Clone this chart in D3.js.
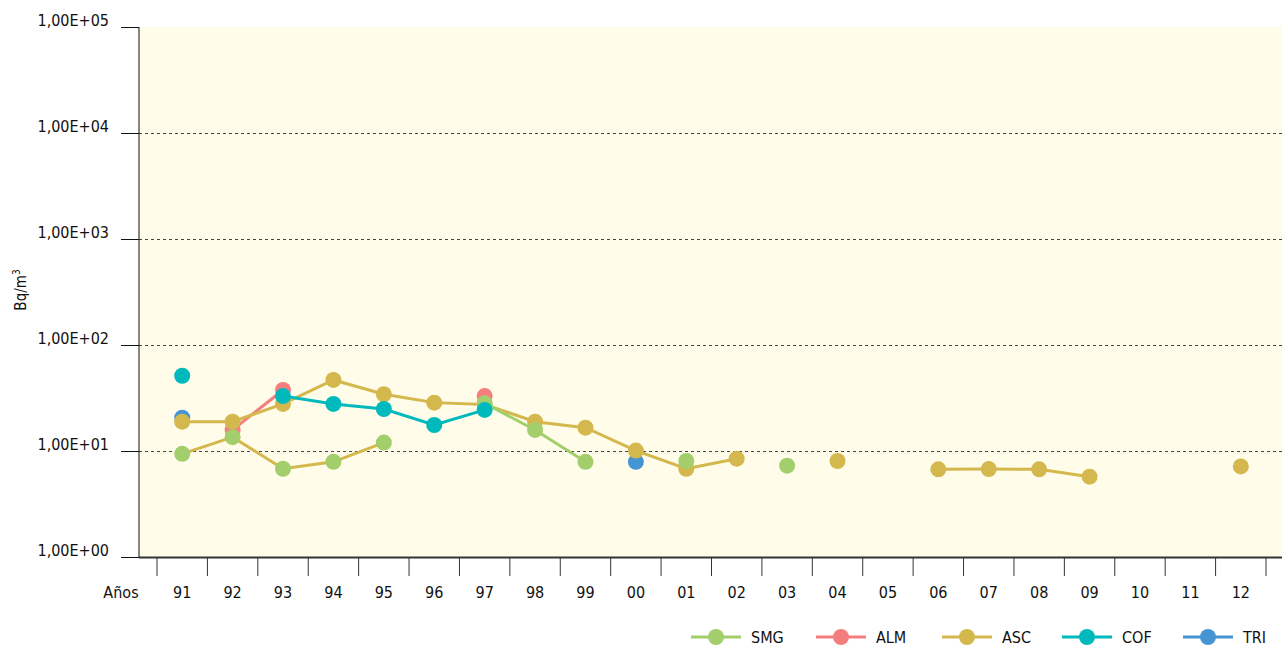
<!DOCTYPE html>
<html>
<head>
<meta charset="utf-8">
<script src="https://cdn.jsdelivr.net/npm/d3@7"></script>
<style>
  body { margin: 0; background: #fff; }
  text { font-family: "Liberation Sans Narrow", "DejaVu Sans Condensed", sans-serif; fill: #111; }
</style>
</head>
<body>
<script>
// years on the x axis
var years = ["91","92","93","94","95","96","97","98","99","00","01","02","03","04","05","06","07","08","09","10","11","12"];

// Bq/m3 per station, null = no value
var smg = [9.4, 13.5, 6.8, 7.9, 12, null, 28.2, 15.8, 7.9, null, 8.05, null, 7.27, null, null, null, null, null, null, null, null, null];
var alm = [null, 15.8, 37.6, null, null, null, 33, null, null, null, null, null, null, null, null, null, null, null, null, null, null, null];
var asc = [18.9, 18.9, 27.8, 46.8, 34.3, 28.6, 27.5, 18.9, 16.6, 10.1, 6.8, 8.46, null, 8.05, null, 6.72, 6.75, 6.72, 5.72, null, null, 7.16];
var cof = [51.3, null, 33, 27.8, 24.9, 17.6, 24.4, null, null, null, null, null, null, null, null, null, null, null, null, null, null, null];
var tri = [20.6, null, null, null, null, null, null, null, null, 7.9, null, null, null, null, null, null, null, null, null, null, null, null];

var yTicks = [1, 10, 100, 1000, 10000, 100000];
var yTickLabels = ["1,00E+00", "1,00E+01", "1,00E+02", "1,00E+03", "1,00E+04", "1,00E+05"];

var series = [
  { name: "SMG", values: smg, color: "#a2cf6b" },
  { name: "ALM", values: alm, color: "#f47d7d" },
  { name: "ASC", values: asc, color: "#d4b84d" },
  { name: "COF", values: cof, color: "#00b9bd" },
  { name: "TRI", values: tri, color: "#4595d4" }
];
// drawing order (which marker sits on top)
var drawOrder = ["TRI", "ALM", "ASC", "SMG", "COF"];

var svg = d3.select("body")
  .append("svg")
  .attr("width", 1282)
  .attr("height", 648);

var x = d3.scaleBand()
  .domain(years)
  .range([157, 1266]);

var y = d3.scaleLog()
  .domain([1, 100000])
  .range([557, 27]);

// plot background
svg.append("rect")
  .attr("x", 139)
  .attr("y", 27)
  .attr("width", 1282 - 139)
  .attr("height", 557 - 27)
  .style("fill", "#fffde9");

// dashed grid lines
svg.selectAll(".grid")
  .data(yTicks.slice(1, 5))
  .enter().append("line")
  .attr("x1", 139)
  .attr("x2", 1282)
  .attr("y1", function(d) { return Math.round(y(d)) + 0.5; })
  .attr("y2", function(d) { return Math.round(y(d)) + 0.5; })
  .style("stroke", "#444")
  .style("stroke-width", 1)
  .style("stroke-dasharray", "3,3");

// y axis
var yAxis = d3.axisLeft(y)
  .tickValues(yTicks)
  .tickFormat(function(d, i) { return yTickLabels[i]; })
  .tickSize(18)
  .tickPadding(12);

var gy = svg.append("g")
  .attr("transform", "translate(139,0)")
  .call(yAxis);
gy.select(".domain").attr("d", "M0,27V557").style("stroke", "#111");
gy.selectAll(".tick line").style("stroke", "#111");
gy.selectAll(".tick text")
  .attr("dy", "-0.1em")
  .style("font-size", "16px")
  .style("font-family", "'Liberation Sans Narrow', 'DejaVu Sans Condensed', sans-serif")
  .style("fill", "#111");

// x axis baseline
svg.append("line")
  .attr("x1", 139)
  .attr("x2", 1282)
  .attr("y1", 557.5)
  .attr("y2", 557.5)
  .style("stroke", "#333")
  .style("stroke-width", 2);

// x ticks between categories
var bounds = years.map(function(d) { return x(d); }).concat([x.range()[1]]);
svg.selectAll(".xtick")
  .data(bounds)
  .enter().append("line")
  .attr("x1", function(d) { return d; })
  .attr("x2", function(d) { return d; })
  .attr("y1", 558)
  .attr("y2", 576)
  .style("stroke", "#333")
  .style("stroke-width", 1);

svg.selectAll(".xlabel")
  .data(years)
  .enter().append("text")
  .attr("x", function(d) { return x(d) + x.bandwidth() / 2; })
  .attr("y", 598)
  .attr("text-anchor", "middle")
  .style("font-size", "16px")
  .text(function(d) { return d; });

svg.append("text")
  .attr("x", 121)
  .attr("y", 598)
  .attr("text-anchor", "middle")
  .style("font-size", "16px")
  .text("Años");

// y axis title
var yt = svg.append("text")
  .attr("transform", "translate(26,290) rotate(-90)")
  .attr("text-anchor", "middle")
  .style("font-size", "15px");
yt.append("tspan").text("Bq/m");
yt.append("tspan").attr("dy", "-6").style("font-size", "10px").text("3");

var cx = function(i) { return x(years[i]) + x.bandwidth() / 2; };

var line = d3.line()
  .defined(function(d) { return d != null; })
  .x(function(d, i) { return cx(i); })
  .y(function(d) { return y(d); });

var ascColor = series[2].color;

drawOrder.forEach(function(name) {
  var s = series.find(function(d) { return d.name === name; });
  if (name === "SMG") {
    // in the source the early SMG segment is drawn in the ASC colour
    var early = s.values.map(function(v, i) { return i <= 4 ? v : null; });
    var late = s.values.map(function(v, i) { return i >= 6 ? v : null; });
    svg.append("path").datum(early).attr("d", line)
      .style("fill", "none").style("stroke", ascColor).style("stroke-width", 3);
    svg.append("path").datum(late).attr("d", line)
      .style("fill", "none").style("stroke", s.color).style("stroke-width", 3);
  } else {
    svg.append("path").datum(s.values).attr("d", line)
      .style("fill", "none").style("stroke", s.color).style("stroke-width", 3);
  }
  svg.selectAll(".pt-" + name)
    .data(s.values.map(function(v, i) { return { v: v, i: i }; }).filter(function(d) { return d.v != null; }))
    .enter().append("circle")
    .attr("cx", function(d) { return cx(d.i); })
    .attr("cy", function(d) { return y(d.v); })
    .attr("r", 8)
    .style("fill", s.color);
});

// legend
var legendX = [716, 841, 967, 1087, 1208];
var leg = svg.selectAll(".legend")
  .data(series)
  .enter().append("g")
  .attr("transform", function(d, i) { return "translate(" + legendX[i] + ",637)"; });
leg.append("line")
  .attr("x1", -25).attr("x2", 25)
  .style("stroke", function(d) { return d.color; })
  .style("stroke-width", 3);
leg.append("circle")
  .attr("r", 8)
  .style("fill", function(d) { return d.color; });
leg.append("text")
  .attr("x", 35)
  .attr("y", 6)
  .style("font-size", "16px")
  .text(function(d) { return d.name; });
</script>
</body>
</html>
